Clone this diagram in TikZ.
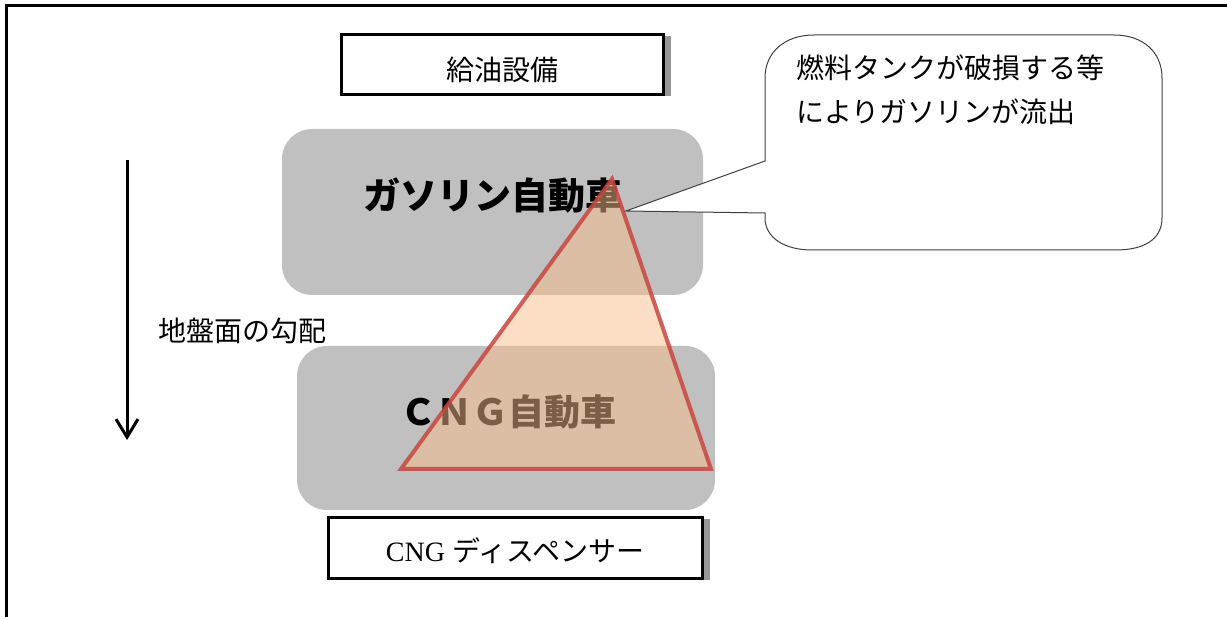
\documentclass[tikz,border=0pt]{standalone}
\usepackage{fontspec}
\setmainfont{Liberation Serif}
\newfontfamily\jp{Noto Sans CJK JP}
\usetikzlibrary{arrows.meta}
\definecolor{cargray}{RGB}{192,192,192}
\definecolor{peach}{RGB}{249,189,140}
\definecolor{trired}{RGB}{200,70,65}
\definecolor{shadowgray}{RGB}{150,150,150}
\begin{document}
\begin{tikzpicture}[x=1pt,y=-1pt,
  carbox/.style={fill=cargray, rounded corners=30pt, inner sep=0pt},
  labelbox/.style={draw=black, line width=3pt, fill=white, inner sep=0pt},
  boxshadow/.style={fill=shadowgray},
  plaintext/.style={font=\jp\fontsize{28pt}{34pt}\selectfont, inner sep=0pt},
  cartext/.style={font=\jp\bfseries\fontsize{37pt}{42pt}\selectfont, inner sep=0pt},
  calloutline/.style={draw=black!75, line width=1pt, fill=white},
  gradarrow/.style={line width=3pt, -{Straight Barb[length=18pt,width=22pt,line width=3pt]}}
]
\useasboundingbox (0,0) rectangle (1227,617);

% outer border
\draw[line width=3pt] (6,620) -- (6,6) -- (1230,6);

% car areas
\node[carbox, minimum width=421pt, minimum height=166pt] (gas) at (492.5,212) {};
\node[carbox, minimum width=418pt, minimum height=164pt] (cng) at (506,428) {};
\node[cartext] (gastext) at (493,196) {ガソリン自動車};
\node[cartext, font=\jp\bfseries\fontsize{36pt}{42pt}\selectfont] (cngtext) at (508,412) {ＣＮＧ自動車};

% triangle (spread of gasoline)
\coordinate (apex) at (612,179);
\coordinate (bl) at (401,469);
\coordinate (br) at (711,469);
\filldraw[fill=peach, fill opacity=0.5, draw=trired, draw opacity=0.85, line width=4pt, line join=miter]
  (apex) -- (bl) -- (br) -- cycle;

% callout
\coordinate (tip) at (626,211);
\draw[calloutline]
  (765,161) -- (tip) -- (765,213) -- (765,218)
  .. controls (765,238) and (785,250) .. (812,250) -- (1116,250)
  .. controls (1143,250) and (1162,240) .. (1162,218) -- (1162,78)
  .. controls (1162,52) and (1143,35) .. (1114,35) -- (814,35)
  .. controls (785,35) and (765,52) .. (765,78) -- cycle;
\node[plaintext, anchor=west, align=left, font=\jp\fontsize{28pt}{44.5pt}\selectfont] (calltext) at (796,90)
  {燃料タンクが破損する等\\によりガソリンが流出};

% top label box
\node[labelbox, minimum width=322pt, minimum height=60pt] (kyuyu) at (502,65) {};
\fill[boxshadow] ([yshift=-3pt]kyuyu.north east) rectangle ([xshift=6pt]kyuyu.south east);
\node[plaintext] (kyuyutext) at (502,70) {給油設備};

% bottom label box
\node[labelbox, minimum width=374pt, minimum height=60pt] (disp) at (515,548) {};
\fill[boxshadow] ([yshift=-3pt]disp.north east) rectangle ([xshift=6pt]disp.south east);
\node[plaintext, font=\fontsize{28pt}{34pt}\selectfont] (disptext) at (515,551) {CNG {\jp ディスペンサー}};

% gradient arrow
\coordinate (atop) at (127,160);
\coordinate (abot) at (127,440);
\draw[gradarrow] (atop) -- (abot);
\node[plaintext] (gradtext) at (242,331) {地盤面の勾配};
\end{tikzpicture}
\end{document}
